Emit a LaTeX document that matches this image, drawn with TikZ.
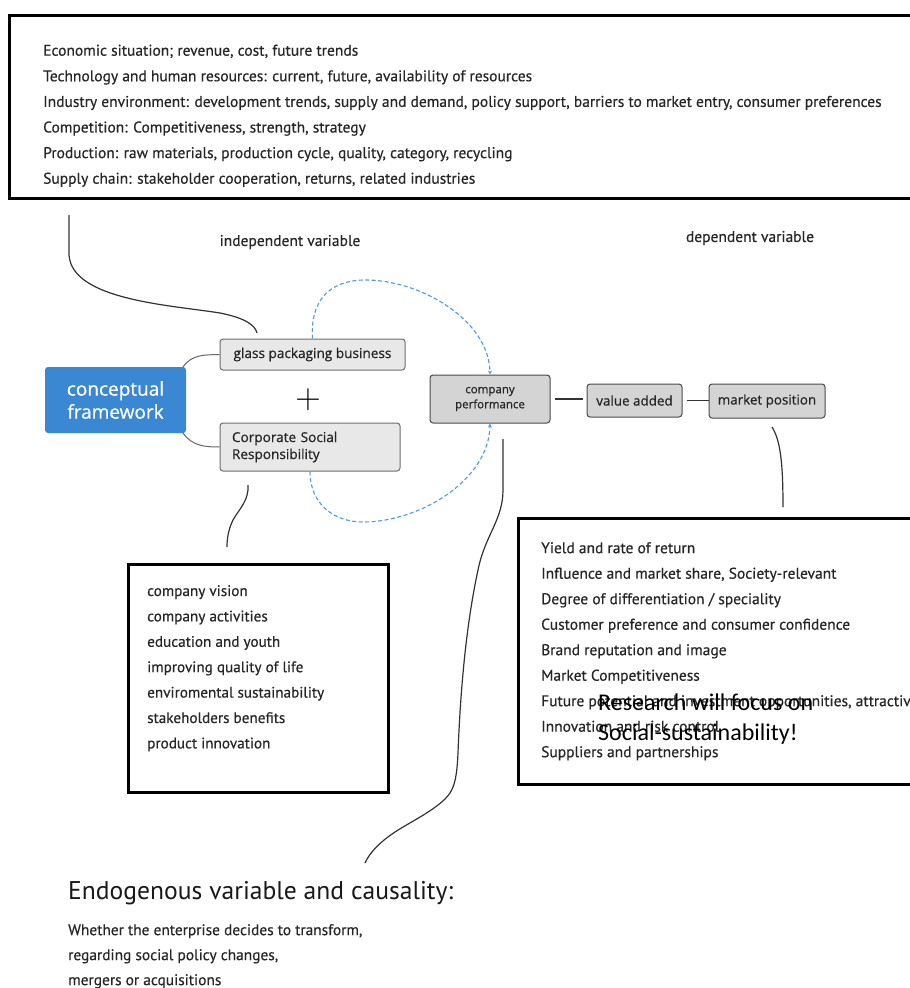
\documentclass[tikz,border=0pt]{standalone}
\usepackage{graphicx}
\usepackage{fontspec}
\setmainfont{PT Sans}
\newfontfamily\listfont[FakeBold=0.4]{PT Sans}
\newfontfamily\mapfont[FakeBold=0.7]{Open Sans}
\newfontfamily\calfont{Carlito}
\usetikzlibrary{arrows.meta}
\definecolor{cfblue}{HTML}{3A87D4}
\definecolor{dashblue}{HTML}{4A9BE0}
\definecolor{lightbox}{HTML}{E8E8E8}
\definecolor{lightedge}{HTML}{6E6E6E}
\definecolor{midbox}{HTML}{D4D4D4}
\definecolor{midedge}{HTML}{4A4A4A}
\definecolor{txt}{HTML}{262626}
\begin{document}
\begin{tikzpicture}[x=1pt,y=-1pt,
  framebox/.style={draw=black,line width=2.5pt},
  listtext/.style={anchor=north west,align=left,inner sep=0pt,text=txt},
  lightnode/.style={draw=lightedge,fill=lightbox,rounded corners=3pt,line width=1pt,inner sep=0pt,text=txt,font=\mapfont\fontsize{13.6}{17}\selectfont},
  midnode/.style={draw=midedge,fill=midbox,rounded corners=3pt,line width=1pt,inner sep=0pt,text=txt},
  connector/.style={draw=black!80,line width=1.2pt},
  thinlink/.style={draw=black!60,line width=1pt},
  dashlink/.style={draw=dashblue,dash pattern=on 4pt off 2.5pt,line width=1.1pt,-{Stealth[length=4pt,width=4pt]}},
  labeltext/.style={text=txt,font=\listfont\fontsize{15.5}{18}\selectfont,inner sep=0pt}]
\useasboundingbox[fill=white] (0,0) rectangle (910,988);

% top box
\node[framebox,minimum width=912pt,minimum height=183pt,anchor=north west,inner sep=0pt] (topbox) at (8,14) {};
\node[listtext,font=\listfont\fontsize{15.5}{25.6}\selectfont] (toplist) at (43,44.5) {Economic situation; revenue, cost, future trends\\
Technology and human resources: current, future, availability of resources\\
Industry environment: development trends, supply and demand, policy support, barriers to market entry, consumer preferences\\
Competition: Competitiveness, strength, strategy\\
Production: raw materials, production cycle, quality, category, recycling\\
Supply chain: stakeholder cooperation, returns, related industries};

% labels
\node[labeltext] (indep) at (290,242) {independent variable};
\node[labeltext] (dep) at (750,238) {dependent variable};

% mind map nodes
\node[fill=cfblue,rounded corners=3pt,minimum width=141pt,minimum height=66pt,inner sep=0pt,align=center,text=white,font=\mapfont\fontsize{19}{23}\selectfont] (cf) at (115.5,400) {conceptual\\framework};
\node[lightnode,minimum width=185pt,minimum height=31pt] (glass) at (312.5,354.5) {glass packaging business};
\node[lightnode,minimum width=180pt,minimum height=48pt,text width=156pt,align=left] (csr) at (310,447) {Corporate Social\\Responsibility};
\node[text=black,inner sep=0pt] (plus) at (308,400) {\scalebox{1.7}{\fontsize{20}{20}\selectfont$+$}};
\node[midnode,minimum width=120pt,minimum height=48pt,align=center,font=\mapfont\fontsize{11.5}{15}\selectfont] (cp) at (490,399) {company\\performance};
\node[midnode,minimum width=95pt,minimum height=33pt,font=\mapfont\fontsize{13.4}{16}\selectfont] (va) at (634.5,400.5) {value added};
\node[midnode,minimum width=116pt,minimum height=34pt,font=\mapfont\fontsize{13.4}{16}\selectfont] (mp) at (767,401) {market position};

% mind map links
\draw[thinlink] (183,367) .. controls (192,354) and (205,355) .. (glass.west);
\draw[thinlink] (183,433) .. controls (192,446) and (205,447) .. (csr.west);
\draw[connector,shorten <=4pt,shorten >=4pt] (cp.east) -- (cp.east -| va.west);
\draw[connector,shorten <=4pt] (va.east) -- (va.east -| mp.west);

% dashed feedback arrows
\draw[dashlink] (glass.north) .. controls (310,300) and (330,281) .. (363,280) .. controls (420,279) and (489,320) .. (cp.north);
\draw[dashlink] (csr.south) .. controls (310,505) and (335,522) .. (363,522) .. controls (420,522) and (489,480) .. (cp.south);

% left box
\node[framebox,minimum width=260pt,minimum height=228pt,anchor=north west,inner sep=0pt] (leftbox) at (127,563) {};
\node[listtext,font=\listfont\fontsize{15.2}{25.4}\selectfont] (leftlist) at (147,585) {company vision\\
company activities\\
education and youth\\
improving quality of life\\
enviromental sustainability\\
stakeholders benefits\\
product innovation};

% right box
\node[framebox,minimum width=400pt,minimum height=266pt,anchor=north west,inner sep=0pt] (rightbox) at (517,517) {};
\node[listtext,font=\listfont\fontsize{15.5}{25.5}\selectfont] (rightlist) at (541,542) {Yield and rate of return\\
Influence and market share, Society-relevant\\
Degree of differentiation / speciality\\
Customer preference and consumer confidence\\
Brand reputation and image\\
Market Competitiveness\\
Future potential and investment opportunities, attractive\\
Innovation and risk control\\
Suppliers and partnerships};
\node[anchor=west,align=left,inner sep=0pt,font=\calfont\fontsize{24}{30}\selectfont] (research) at (598,719) {Research will focus on\\Social-sustainability!};

% curved connectors
\coordinate (t1) at (69,215);
\coordinate (t2) at (257,333);
\draw[connector] (t1) -- (69,255) .. controls (72,300) and (170,305) .. (220,313) .. controls (245,318) and (255,325) .. (t2);
\coordinate (c1) at (248,485);
\coordinate (c2) at (227,547);
\draw[connector] (c1) .. controls (249,500) and (240,508) .. (233,520) .. controls (228,530) and (227,540) .. (c2);
\coordinate (m1) at (772,427);
\coordinate (m2) at (783,507);
\draw[connector] (m1) .. controls (780,440) and (783,460) .. (m2);
\coordinate (p1) at (503,439);
\coordinate (p2) at (365,863);
\draw[connector] (p1) -- (503,490) .. controls (503,520) and (485,535) .. (478,570) .. controls (465,630) and (460,700) .. (458,753) .. controls (457,775) and (455,785) .. (450,793) .. controls (440,808) and (410,822) .. (395,832) .. controls (380,842) and (370,852) .. (p2);

% bottom text
\node[anchor=west,inner sep=0pt,text=black!90,font=\fontsize{25.6}{30}\selectfont] (endo) at (68,893) {Endogenous variable and causality:};
\node[listtext,font=\listfont\fontsize{15.4}{25}\selectfont] (endolist) at (68,924) {Whether the enterprise decides to transform,\\
regarding social policy changes,\\
mergers or acquisitions};
\end{tikzpicture}
\end{document}
